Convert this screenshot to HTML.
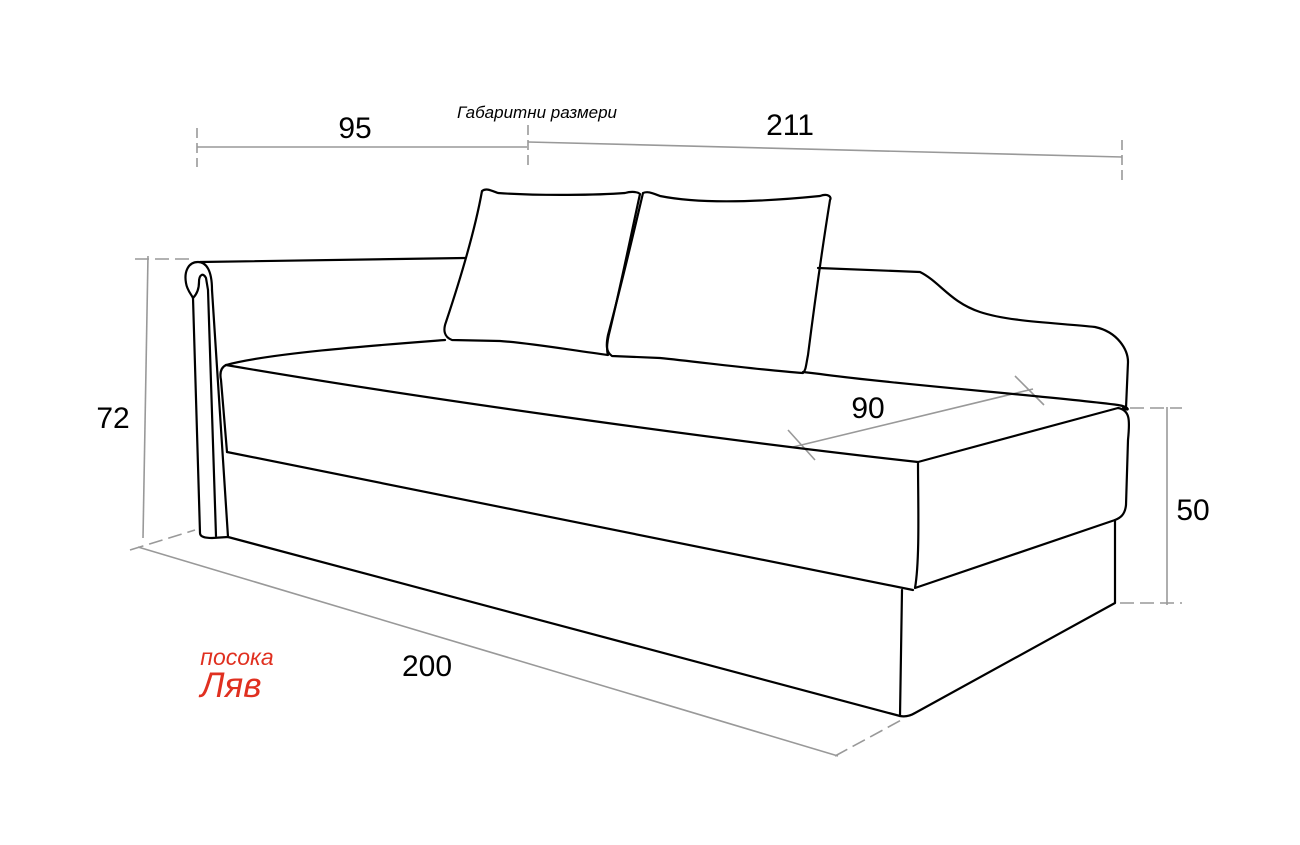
<!DOCTYPE html>
<html><head><meta charset="utf-8"><style>
html,body{margin:0;padding:0;background:#fff;}
svg{display:block;}
</style></head><body>
<svg width="1300" height="845" viewBox="0 0 1300 845" xmlns="http://www.w3.org/2000/svg">
<rect width="1300" height="845" fill="#fff"/>
<g stroke="#999" stroke-width="1.6" fill="none">
  <line x1="197" y1="147" x2="527" y2="147"/>
  <line x1="197" y1="128" x2="197" y2="167" stroke-dasharray="10,5"/>
  <line x1="528" y1="125" x2="528" y2="165" stroke-dasharray="10,5"/>
  <line x1="528" y1="142" x2="1122" y2="157"/>
  <line x1="1122" y1="140" x2="1122" y2="180" stroke-dasharray="10,5"/>
  <line x1="148" y1="256" x2="143" y2="538"/>
  <line x1="135" y1="259" x2="190" y2="259" stroke-dasharray="14,6"/>
  <line x1="130" y1="550" x2="195" y2="530" stroke-dasharray="14,6"/>
  <line x1="138" y1="547" x2="838" y2="756"/>
  <line x1="835" y1="756" x2="905" y2="718" stroke-dasharray="14,6"/>
  <line x1="1167" y1="407" x2="1167" y2="605"/>
  <line x1="1130" y1="408" x2="1182" y2="408" stroke-dasharray="14,6"/>
  <line x1="1120" y1="603" x2="1182" y2="603" stroke-dasharray="14,6"/>
  <line x1="793" y1="447" x2="1033" y2="389"/>
  <line x1="788" y1="430" x2="815" y2="460"/>
  <line x1="1015" y1="376" x2="1044" y2="405"/>
</g>
<g stroke="#000" stroke-width="2.2" fill="none" stroke-linejoin="round" stroke-linecap="round">
  <path d="M200,262 L465,258"/>
  <path d="M212,290 C212,270 206,262 198,262 C188,262 184,272 186,283 C187,290 191,294 193,298 L200,533 C200,537 205,538 212,538 L228,537"/>
  <path d="M212,290 L228,537"/>
  <path d="M193,298 C197,294 199,288 199,282 C199,275 203,272 206,278 L208,290 L216,536"/>
  <path d="M818,268 L920,272 C940,282 950,302 980,312 C1010,322 1060,323 1095,327 C1118,332 1128,350 1128,362 L1126,408"/>
  <path d="M226,365 C270,353 380,345 445,340"/>
  <path d="M803,372 L820,374 C900,385 1050,396 1118,405 C1130,407 1130,412 1123,408"/>
  <path d="M226,365 C220,368 220,375 221,380 L227,452"/>
  <path d="M226,365 C400,395 700,438 918,462 C935,457 1000,440 1118,408 C1130,410 1130,420 1128,440 L1126,505 C1125,515 1120,518 1115,520 L915,588 C920,560 918,500 918,462"/>
  <path d="M227,452 L913,590"/>
  <path d="M228,537 L900,716 C905,717 910,716 915,713 L1115,603 L1115,520"/>
  <path d="M902,590 L900,716"/>
  <path d="M482,191 C486,188 490,190 498,193 C540,196 600,195 625,193 C632,191 638,192 640,194 C632,230 622,280 610,330 C606,345 607,352 608,355 C570,350 530,343 500,341 L452,340 C444,337 443,330 446,322 C460,280 475,230 482,191 Z"/>
  <path d="M643,193 C648,191 652,193 660,196 C700,204 760,202 820,196 C828,193 832,197 830,200 C822,250 815,300 808,355 C806,365 806,370 803,373 C760,370 700,362 660,358 L612,356 C606,352 606,345 608,335 C620,290 632,240 643,193 Z"/>
</g>
<g font-family="'Liberation Sans', sans-serif" fill="#000">
  <text x="355" y="138" font-size="30" text-anchor="middle">95</text>
  <text x="790" y="135" font-size="30" text-anchor="middle">211</text>
  <text x="537" y="118" font-size="17" font-style="italic" text-anchor="middle">Габаритни размери</text>
  <text x="113" y="428" font-size="30" text-anchor="middle">72</text>
  <text x="868" y="418" font-size="30" text-anchor="middle">90</text>
  <text x="1193" y="520" font-size="30" text-anchor="middle">50</text>
  <text x="427" y="676" font-size="30" text-anchor="middle">200</text>
  <text x="237" y="665" font-size="23" font-style="italic" fill="#e03020" text-anchor="middle">посока</text>
  <text x="231" y="697" font-size="35" font-style="italic" fill="#e03020" text-anchor="middle">Ляв</text>
</g>
</svg>
</body></html>
